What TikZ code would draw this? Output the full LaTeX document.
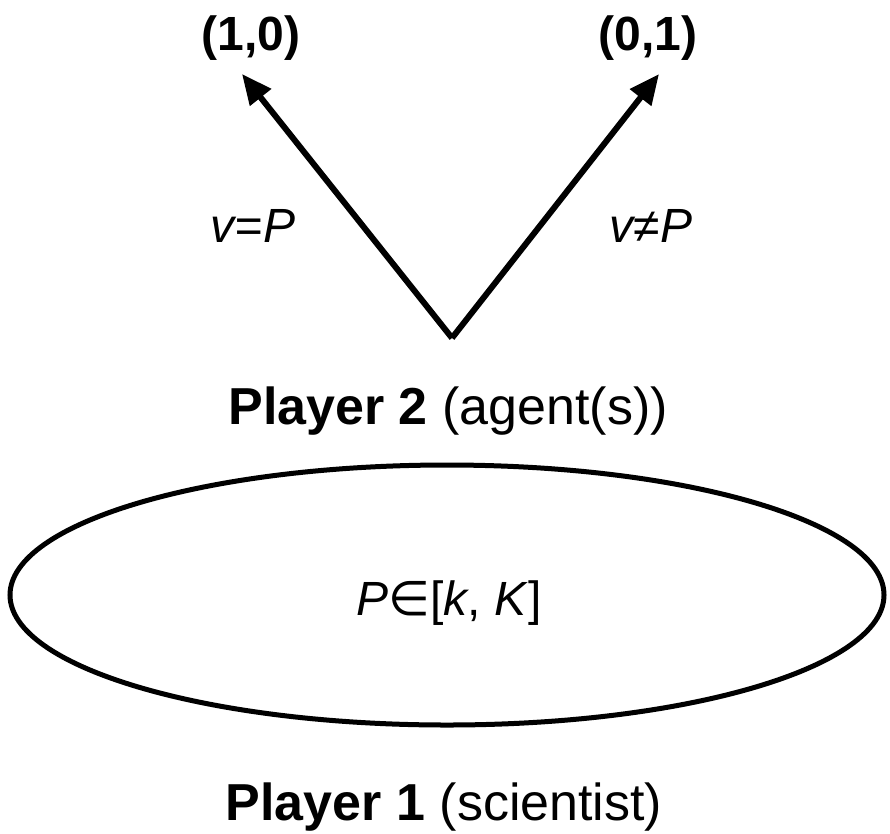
\documentclass[tikz,border=0pt]{standalone}
\usepackage{fontspec}
\setmainfont{Liberation Sans}
\newfontfamily\symfont{DejaVu Sans}
\usetikzlibrary{arrows.meta,shapes.geometric}
\begin{document}
\begin{tikzpicture}[x=1pt,y=-1pt,
  lbl/.style={anchor=base,inner sep=0pt,font=\fontsize{48}{58}\selectfont},
  big/.style={lbl,font=\fontsize{52}{62}\selectfont},
  move/.style={line width=6pt,-{Triangle[length=30pt,width=26pt]}},
  chance/.style={draw,line width=5pt,ellipse,minimum width=874pt,minimum height=260pt,inner sep=0pt}]
\useasboundingbox (0,0) rectangle (890,833);

% decision vertex of player 2 and the two outcome points
\coordinate (root) at (452,338);
\coordinate (tipL) at (242,74);
\coordinate (tipR) at (659,74);
\draw[move] (root) -- (tipL);
\draw[move] (root) -- (tipR);

% payoffs
\node[lbl,font=\fontsize{48}{58}\selectfont\bfseries] (payL) at (251,50) {(1,0)};
\node[lbl,font=\fontsize{48}{58}\selectfont\bfseries] (payR) at (648,50) {(0,1)};

% branch labels
\node[lbl] (eqL) at (253,242) {\itshape v=P};
\node[lbl] (neR) at (651,242) {\itshape v≠P};

\node[big] (p2) at (448,424) {\textbf{Player 2} (agent(s))};

% the scientist's choice set
\node[chance] (set) at (447,595) {};
\node[lbl] (range) at (449,615) {\textit{P}{\symfont ∈}[\textit{k}, \textit{K}]};

\node[big] (p1) at (444,820) {\textbf{Player 1} (scientist)};
\end{tikzpicture}
\end{document}
